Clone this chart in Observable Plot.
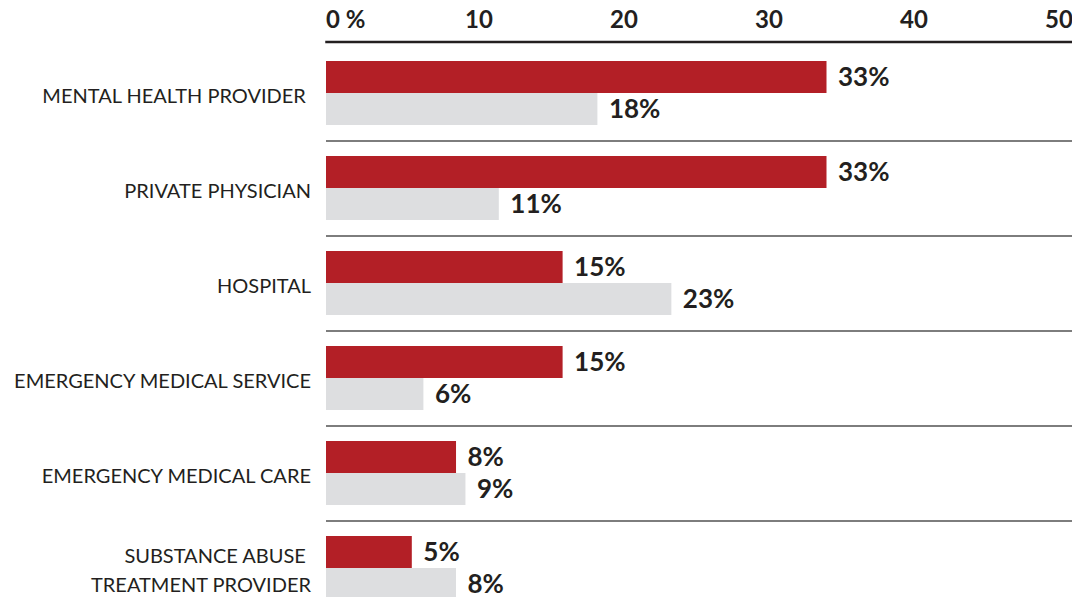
<!DOCTYPE html>
<html>
<head>
<meta charset="utf-8">
<script src="https://cdn.jsdelivr.net/npm/d3@7"></script>
<script src="https://cdn.jsdelivr.net/npm/@observablehq/plot@0.6"></script>
<style>
  html, body { margin: 0; padding: 0; background: #fff; }
  svg { display: block; }
</style>
</head>
<body>
<div id="chart"></div>
<script>
// Categories (rows, top to bottom)
const categories = [
  "MENTAL HEALTH PROVIDER",
  "PRIVATE PHYSICIAN",
  "HOSPITAL",
  "EMERGENCY MEDICAL SERVICE",
  "EMERGENCY MEDICAL CARE",
  "SUBSTANCE ABUSE TREATMENT PROVIDER"
];
const categoryLabels = [
  "MENTAL HEALTH PROVIDER\u00a0",
  "PRIVATE PHYSICIAN",
  "HOSPITAL",
  "EMERGENCY MEDICAL SERVICE",
  "EMERGENCY MEDICAL CARE",
  "SUBSTANCE ABUSE\u00a0\nTREATMENT PROVIDER"
];
// Series 1 (red, top bar of each pair): bar lengths, printed labels
const redValues = [34.0, 34.0, 15.8, 15.8, 8.45, 5.4];
const redLabels = ["33%", "33%", "15%", "15%", "8%", "5%"];
// Series 2 (grey, bottom bar of each pair)
const greyValues = [18.2, 11.4, 23.3, 6.2, 9.1, 8.45];
const greyLabels = ["18%", "11%", "23%", "6%", "9%", "8%"];
// Axis ticks
const tickValues = [0, 10, 20, 30, 40, 50];
const tickLabels = ["0 %", "10", "20", "30", "40", "50"];

const red = categories.map((c, i) => ({category: c, value: redValues[i], label: redLabels[i]}));
const grey = categories.map((c, i) => ({category: c, value: greyValues[i], label: greyLabels[i]}));
const ticks = tickValues.map((v, i) => ({value: v, label: tickLabels[i]}));

const ink = "#231f20";
const FONT = "Lato, 'Open Sans', sans-serif";

const chart = Plot.plot({
  width: 1072,
  height: 597,
  marginLeft: 333.5,
  marginRight: 13.5,
  marginTop: 41.5,
  marginBottom: 0,
  style: {fontFamily: FONT, background: "#fff", overflow: "hidden"},
  x: {domain: [0, 50], range: [333.5, 1058.5], axis: null},
  y: {domain: categories, range: [46, 616], paddingInner: 0.326, paddingOuter: 0.163, axis: null},
  marks: [
    // top axis line
    Plot.frame({anchor: "top", stroke: ink, strokeWidth: 2.5, insetLeft: -7.5, insetRight: -14}),
    // row separators
    Plot.ruleY(categories.slice(1), {y: d => d, dy: -47.5, stroke: "#7d7d7d", strokeWidth: 2, insetLeft: -7.5, insetRight: -14}),
    // bars
    Plot.barX(red, {x: "value", y: "category", fill: "#b31f26", insetBottom: 32, insetLeft: -7.5}),
    Plot.barX(grey, {x: "value", y: "category", fill: "#dddee0", insetTop: 32, insetLeft: -7.5}),
    // value labels
    Plot.text(red, {x: "value", y: "category", text: "label", dy: -16, dx: 11, textAnchor: "start", lineAnchor: "middle", fontSize: 26, fontWeight: "bold", fill: ink}),
    Plot.text(grey, {x: "value", y: "category", text: "label", dy: 16, dx: 11, textAnchor: "start", lineAnchor: "middle", fontSize: 26, fontWeight: "bold", fill: ink}),
    // category labels
    Plot.text(categories, {y: d => d, text: categoryLabels, frameAnchor: "left", textAnchor: "end", dx: -23, lineAnchor: "middle", lineHeight: 1.45, fontSize: 20, fontWeight: 400, fill: ink}),
    // axis tick labels
    Plot.text(ticks.slice(0, 1), {x: "value", text: "label", frameAnchor: "top", dy: -22, dx: -8, textAnchor: "start", lineAnchor: "middle", fontSize: 24, fontWeight: "bold", fill: ink}),
    Plot.text(ticks.slice(1), {x: "value", text: "label", frameAnchor: "top", dy: -22, textAnchor: "middle", lineAnchor: "middle", fontSize: 24, fontWeight: "bold", fill: ink})
  ]
});
document.getElementById("chart").appendChild(chart);
</script>
</body>
</html>
